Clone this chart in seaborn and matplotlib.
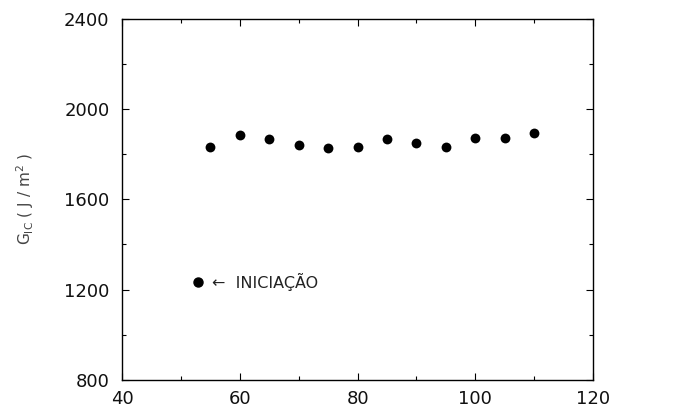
import pandas as pd
import seaborn as sns
import matplotlib.pyplot as plt
from matplotlib.ticker import MultipleLocator

# values
temperatura = [55, 60, 65, 70, 75, 80, 85, 90, 95, 100, 105, 110]
g_ic = [1831, 1883, 1867, 1840, 1828, 1831, 1868, 1849, 1831, 1871, 1870, 1895]

x_ticks = [40, 60, 80, 100, 120]
y_ticks = [800, 1200, 1600, 2000, 2400]


def main() -> None:
    sns.set_style("ticks")
    plt.rcParams["font.family"] = ["DejaVu Sans"]
    plt.rcParams["mathtext.default"] = "regular"

    df = pd.DataFrame({"T": temperatura, "G": g_ic})

    fig = plt.figure(figsize=(6.93, 4.13), dpi=100)
    ax = fig.add_axes([0.176, 0.08, 0.68, 0.875])
    sns.scatterplot(
        data=df, x="T", y="G", color="black", s=50, edgecolor="black",
        linewidth=0, ax=ax, zorder=3,
    )

    ax.set_xlim(40, 120)
    ax.set_ylim(800, 2400)
    ax.set_xticks(x_ticks)
    ax.set_yticks(y_ticks)
    ax.xaxis.set_minor_locator(MultipleLocator(10))
    ax.yaxis.set_minor_locator(MultipleLocator(200))
    ax.tick_params(which="both", direction="in", top=True, right=True,
                   labelsize=13, color="black", labelcolor="#111111")
    ax.tick_params(axis="y", pad=9)
    ax.tick_params(axis="x", pad=7)
    ax.tick_params(which="major", length=5, width=0.8)
    ax.tick_params(which="minor", length=3, width=0.8)
    for side in ax.spines.values():
        side.set_linewidth(1.0)
        side.set_color("black")

    ax.set_xlabel("")
    ax.set_ylabel(r"G$_{IC}$ ( J / m$^2$ )", fontsize=11, color="#444444",
                  labelpad=20)

    # legend drawn as in the original figure
    ax.plot([0.161], [0.27], marker="o", color="black", markersize=6.5,
            transform=ax.transAxes, linestyle="none")
    ax.text(0.19, 0.27, "\u2190  INICIAÇÃO", transform=ax.transAxes,
            fontsize=11.5, va="center", ha="left", color="#222222")

    fig.savefig("out.png", dpi=100)
    plt.close(fig)


if __name__ == "__main__":
    main()
